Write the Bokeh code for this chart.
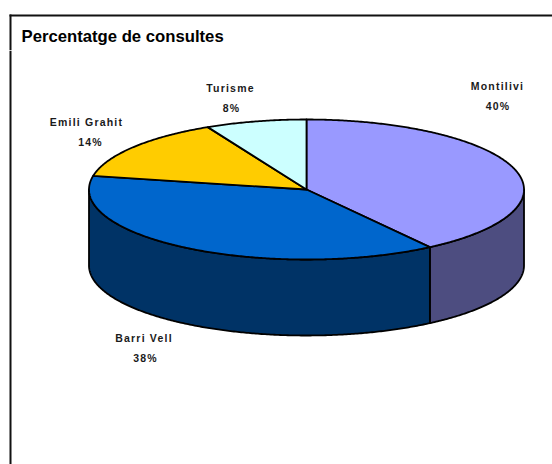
import math
from bokeh.plotting import figure
from bokeh.layouts import column
from bokeh.models import Range1d
from bokeh.core.properties import value
from bokeh.embed import file_html
from bokeh.resources import INLINE

title_text = "Percentatge de consultes"
categories = ["Montilivi", "Barri Vell", "Emili Grahit", "Turisme"]
shares = [40.4, 37.7, 14.4, 7.5]
top_colors = ["#9999FF", "#0066CC", "#FFCC00", "#CCFFFF"]
side_colors = ["#4D4D80", "#003366", "#806600", "#668080"]
name_x = [497, 143.5, 86, 230]
name_y = [85, 337, 121, 87]
pct_x = [497.5, 145, 90, 231]

W, H = 552, 464
HEAD = 50
SPACING = 1.2
FRAME_X = 10
CX, CY, RX, RY, DEPTH = 306, 189, 217.5, 70, 76


def rim(a0, a1):
    n = max(2, int(abs(a1 - a0) * 2))
    return [(CX + RX * math.sin(math.radians(a0 + (a1 - a0) * i / n)),
             CY - RY * math.cos(math.radians(a0 + (a1 - a0) * i / n))) for i in range(n + 1)]


def panel(h, y0):
    f = figure(width=W, height=h, output_backend="svg", toolbar_location=None,
               x_range=Range1d(0, W), y_range=Range1d(y0 + h, y0), x_axis_type=None,
               y_axis_type=None, min_border=0, outline_line_color=None,
               background_fill_color="white", border_fill_color="white")
    f.grid.visible = False
    return f


head = panel(HEAD, 0)
head.segment([FRAME_X - 1], [15], [W], [15], line_color="#111111", line_width=2)
head.segment([FRAME_X], [14], [FRAME_X], [HEAD], line_color="#111111", line_width=2)
head.text([21], [36], text=[title_text], text_font=value("Liberation Sans"),
          text_font_style="bold", text_font_size="16.7px", text_color="black",
          text_align="left", text_baseline="middle")

p = panel(H - HEAD, HEAD)
p.stylesheets = [":host { letter-spacing: %spx; }" % SPACING]
p.segment([FRAME_X], [HEAD], [FRAME_X], [H], line_color="#111111", line_width=2)

angle = 0
spans = []
for s in shares:
    spans.append((angle, angle + s * 3.6))
    angle += s * 3.6

# side walls, visible only on the front half (90..270 deg)
for (a0, a1), c in zip(spans, side_colors):
    lo, hi = max(a0, 90), min(a1, 270)
    if lo < hi:
        edge = rim(lo, hi)
        xs = [q[0] for q in edge] + [q[0] for q in reversed(edge)]
        ys = [q[1] for q in edge] + [q[1] + DEPTH for q in reversed(edge)]
        p.patch(xs, ys, fill_color=c, line_color="black", line_width=1.8, line_join="round")

# top faces
for (a0, a1), c in zip(spans, top_colors):
    edge = rim(a0, a1)
    xs = [CX] + [q[0] for q in edge]
    ys = [CY] + [q[1] for q in edge]
    p.patch(xs, ys, fill_color=c, line_color="black", line_width=1.8, line_join="round")

for name, s, nx, px, y in zip(categories, shares, name_x, pct_x, name_y):
    pct = f"{round(s)}%"
    for txt, x, dy in ((name, nx, 0), (pct, px, 20)):
        # the browser's letter spacing widens the text to the right of Bokeh's own centring
        p.text([x - SPACING * len(txt) / 2], [y + dy], text=[txt],
               text_font=value("Liberation Sans"), text_font_style="bold",
               text_font_size="10.5px", text_color="#1a1a1a",
               text_align="center", text_baseline="middle")

open("out.html", "w").write(file_html(column(head, p, spacing=0), INLINE))
